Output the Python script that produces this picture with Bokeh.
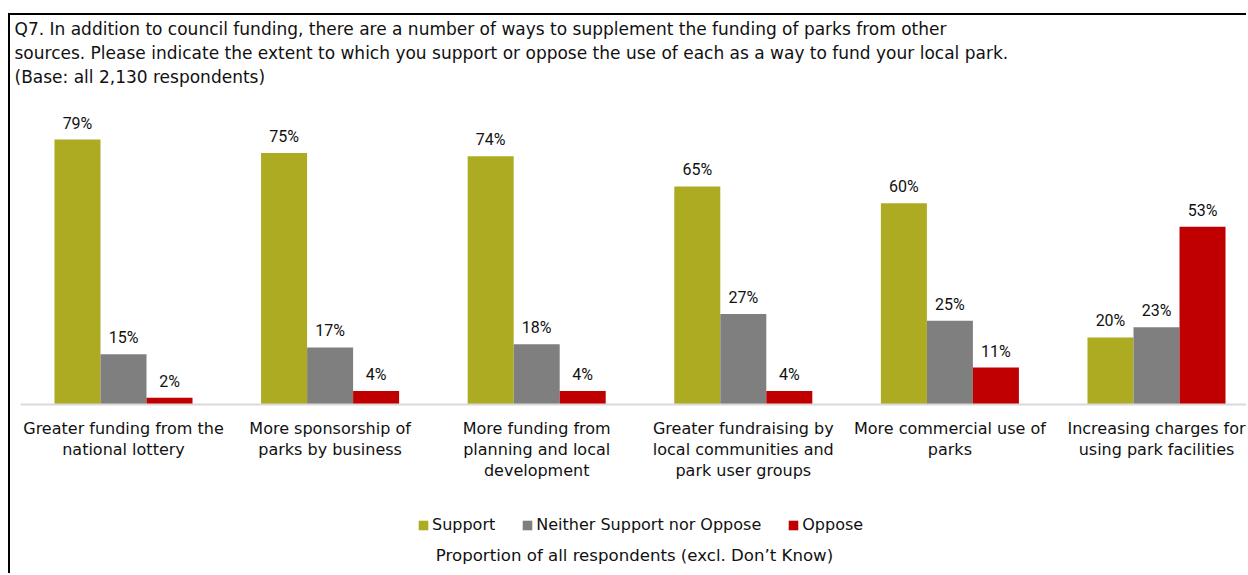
from bokeh.plotting import figure
from bokeh.models import (ColumnDataSource, LabelSet, Label, Legend, LegendItem, Title,
                          Span, Range1d)
from bokeh.transform import dodge
from bokeh.core.properties import value
from bokeh.embed import file_html
from bokeh.resources import INLINE

# ---------------- data ----------------
categories = [
    "Greater funding from the national lottery",
    "More sponsorship of parks by business",
    "More funding from planning and local development",
    "Greater fundraising by local communities and park user groups",
    "More commercial use of parks",
    "Increasing charges for using park facilities",
]
category_labels = [
    "Greater funding from the\nnational lottery",
    "More sponsorship of\nparks by business",
    "More funding from\nplanning and local\ndevelopment",
    "Greater fundraising by\nlocal communities and\npark user groups",
    "More commercial use of\nparks",
    "Increasing charges for\nusing park facilities",
]
support = [79, 75, 74, 65, 60, 20]
neither = [15, 17, 18, 27, 25, 23]
oppose = [2, 4, 4, 4, 11, 53]
series_names = ["Support", "Neither Support nor Oppose", "Oppose"]
series_colors = ["#ADAB22", "#7F7F7F", "#C00000"]
title_lines = [
    "Q7. In addition to council funding, there are a number of ways to supplement the funding of parks from other",
    "sources. Please indicate the extent to which you support or oppose the use of each as a way to fund your local park.",
    "(Base: all 2,130 respondents)",
]
x_title = "Proportion of all respondents (excl. Don\u2019t Know)"

# ---------------- layout constants ----------------
FONT = "DejaVu Sans"
LABEL_FONT = "Roboto"
W, H = 1238, 560
border_left, border_top = 10, 72
baseline_px = 389          # canvas y of the value axis zero line
group_px = 206.6           # pixels per category
val_px = 3.354             # pixels per percentage point
frame_w = W - border_left
bar_w = 0.2227
offsets = [-bar_w, 0.0, bar_w]

positions = list(range(len(categories)))
src = ColumnDataSource(dict(
    x=positions,
    zero=[0] * len(positions),
    cat_label=category_labels,
    support=support, neither=neither, oppose=oppose,
    support_lbl=[f"{v}%" for v in support],
    neither_lbl=[f"{v}%" for v in neither],
    oppose_lbl=[f"{v}%" for v in oppose],
))
cols = ["support", "neither", "oppose"]

x_start = -(103.0 / group_px)
x_end = x_start + frame_w / group_px
y_start = -(H - baseline_px) / val_px
y_end = (baseline_px - border_top) / val_px

p = figure(width=W, height=H,
           x_range=Range1d(x_start, x_end),
           y_range=Range1d(y_start, y_end),
           output_backend="svg", toolbar_location=None,
           x_axis_location=None, y_axis_location=None,
           min_border_left=border_left, min_border_right=0,
           min_border_top=border_top, min_border_bottom=0)
p.grid.visible = False
p.outline_line_color = None
p.background_fill_color = "white"
p.border_fill_color = "white"
p.margin = (13, 0, 0, 8)
p.styles = {"border-top": "2px solid black", "border-left": "2px solid black"}

# category axis line
p.add_layout(Span(location=0, dimension="width", line_color="#D9D9D9", line_width=2))

renderers = []
for col, off, color in zip(cols, offsets, series_colors):
    r = p.vbar(x=dodge("x", off, range=p.x_range), top=col, width=bar_w,
               source=src, fill_color=color, line_color=None)
    renderers.append(r)
    p.add_layout(LabelSet(x=dodge("x", off, range=p.x_range), y=col, text=col + "_lbl",
                          source=src, text_align="center", text_baseline="alphabetic",
                          y_offset=11, text_font=value(LABEL_FONT),
                          text_font_size="16px", text_color="#111111"))

# category labels under the zero line
p.text(x="x", y="zero", text="cat_label", source=src, y_offset=14,
       text_align="center", text_baseline="top",
       text_font=value(FONT), text_font_size="16px", text_color="#111111",
       text_line_height=1.12)

legend = Legend(items=[LegendItem(label=n, renderers=[r]) for n, r in zip(series_names, renderers)],
                orientation="horizontal", location=(397, 41),
                glyph_width=12, glyph_height=12, label_standoff=3, spacing=26,
                padding=0, margin=0, border_line_color=None,
                background_fill_alpha=0,
                label_text_font=FONT, label_text_font_size="16px",
                label_text_color="#111111")
p.add_layout(legend, "center")

p.add_layout(Label(x=(x_start + x_end) / 2, y=-(151.0 / val_px), text=x_title,
                   text_align="center", text_baseline="middle",
                   text_font=FONT, text_font_size="16.6px", text_color="#111111"))

for line in reversed(title_lines):
    p.add_layout(Title(text=line, align="left", offset=-6, text_font=FONT,
                       text_font_size="17px", text_font_style="normal",
                       text_color="#111111", standoff=2), "above")

open("out.html", "w").write(file_html(p, INLINE))
